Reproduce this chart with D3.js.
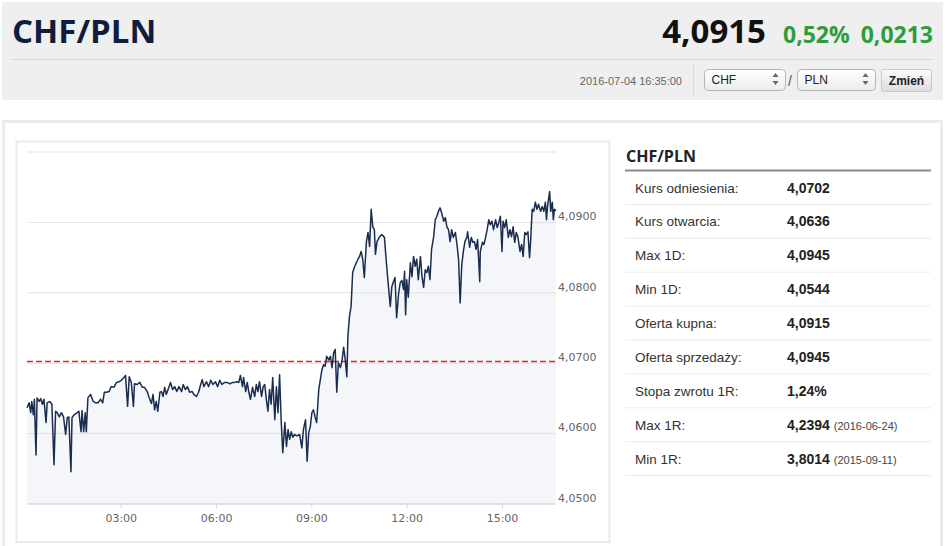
<!DOCTYPE html>
<html>
<head>
<meta charset="utf-8">
<script src="https://cdnjs.cloudflare.com/ajax/libs/d3/7.8.5/d3.min.js"></script>
<style>
body { margin: 0; background: #fff; }
svg { display: block; font-family: Arial, "Liberation Sans", sans-serif; }
</style>
</head>
<body>
<svg id="page" width="945" height="546"></svg>
<script>
// intraday CHF/PLN, minutes after 00:00 on 2016-07-04
const minutes = [3,7,10,12,15,17,20,22,26,29,32,35,39,41,46,50,54,57,60,64,68,72,76,79,82,86,88,92,96,101,
  105,107,110,113,115,118,123,128,133,137,142,146,149,153,158,162,167,172,177,181,186,189,193,196,200,204,206,211,216,221,
  225,230,233,238,241,244,247,250,254,257,260,263,266,271,274,278,282,286,290,295,298,302,306,310,315,318,323,327,331,334,
  337,342,346,350,354,359,363,367,371,376,381,386,391,395,399,403,406,410,412,416,419,422,425,429,433,436,439,442,446,449,
  452,455,458,461,464,467,471,474,477,480,483,486,490,493,496,499,502,505,508,513,518,522,525,529,532,535,538,541,544,547,
  550,554,557,560,563,566,569,573,576,579,582,585,588,591,595,598,601,604,607,609,612,615,618,622,625,628,631,634,637,640,
  644,647,650,653,656,659,661,664,669,673,678,681,684,689,692,695,698,701,705,708,711,714,716,718,720,723,727,730,733,736,
  739,742,746,749,752,755,758,761,764,767,771,774,777,780,783,786,790,793,796,799,802,805,808,812,815,818,821,824,827,830,
  834,835,839,842,845,848,851,854,858,859,863,866,869,872,875,878,881,884,888,891,894,897,900,902,905,908,912,915,918,921,
  924,927,930,934,937,940,943,946,949,952,954,957,960,963,966,969,973,976,979,982,984,986,990,992,995,997,999,1002]
const rates = [4.0636,4.0643,4.0629,4.0645,4.0626,4.0648,4.0569,4.0650,4.0645,4.0649,4.0641,4.0648,4.0615,4.0643,4.0645,4.0641,4.0555,4.0631,4.0629,4.0623,
  4.0629,4.0623,4.0598,4.0622,4.0623,4.0545,4.0622,4.0626,4.0628,4.0631,4.0602,4.0632,4.0602,4.0629,4.0602,4.0650,4.0655,4.0645,4.0643,4.0643,
  4.0648,4.0643,4.0658,4.0658,4.0659,4.0666,4.0665,4.0672,4.0673,4.0675,4.0679,4.0682,4.0638,4.0680,4.0672,4.0638,4.0670,4.0669,4.0672,4.0665,
  4.0665,4.0659,4.0652,4.0642,4.0655,4.0633,4.0645,4.0631,4.0658,4.0659,4.0652,4.0665,4.0655,4.0665,4.0672,4.0662,4.0666,4.0659,4.0666,4.0659,
  4.0669,4.0662,4.0666,4.0658,4.0659,4.0655,4.0652,4.0658,4.0669,4.0676,4.0666,4.0673,4.0666,4.0675,4.0669,4.0673,4.0666,4.0675,4.0669,4.0672,
  4.0672,4.0670,4.0672,4.0672,4.0673,4.0672,4.0682,4.0666,4.0679,4.0659,4.0672,4.0658,4.0648,4.0665,4.0652,4.0669,4.0659,4.0673,4.0652,4.0666,
  4.0669,4.0648,4.0631,4.0662,4.0641,4.0679,4.0619,4.0666,4.0629,4.0683,4.0619,4.0572,4.0615,4.0581,4.0605,4.0591,4.0602,4.0594,4.0598,4.0596,
  4.0598,4.0579,4.0605,4.0619,4.0560,4.0601,4.0609,4.0629,4.0633,4.0623,4.0615,4.0662,4.0676,4.0690,4.0697,4.0695,4.0709,4.0704,4.0709,4.0693,
  4.0714,4.0719,4.0658,4.0700,4.0693,4.0704,4.0722,4.0704,4.0680,4.0737,4.0766,4.0780,4.0828,4.0837,4.0842,4.0847,4.0851,4.0858,4.0847,4.0821,
  4.0872,4.0885,4.0865,4.0918,4.0893,4.0889,4.0854,4.0872,4.0879,4.0882,4.0878,4.0849,4.0822,4.0780,4.0808,4.0815,4.0821,4.0764,4.0800,4.0814,
  4.0817,4.0804,4.0830,4.0768,4.0818,4.0793,4.0842,4.0822,4.0851,4.0837,4.0847,4.0818,4.0851,4.0822,4.0807,4.0832,4.0828,4.0837,4.0818,4.0861,
  4.0879,4.0903,4.0908,4.0915,4.0920,4.0913,4.0901,4.0906,4.0893,4.0889,4.0872,4.0889,4.0878,4.0885,4.0868,4.0847,4.0785,4.0839,4.0858,4.0872,
  4.0879,4.0886,4.0864,4.0878,4.0871,4.0872,4.0861,4.0875,4.0815,4.0858,4.0871,4.0868,4.0878,4.0889,4.0903,4.0896,4.0901,4.0889,4.0903,4.0892,
  4.0899,4.0908,4.0858,4.0901,4.0892,4.0903,4.0878,4.0889,4.0879,4.0893,4.0871,4.0885,4.0879,4.0858,4.0868,4.0851,4.0885,4.0882,4.0886,4.0849,
  4.0872,4.0918,4.0915,4.0928,4.0918,4.0925,4.0915,4.0922,4.0915,4.0928,4.0903,4.0922,4.0943,4.0915,4.0928,4.0903,4.0918,4.0916]
const refRate = 4.0702
const yTicks = [4.05, 4.06, 4.07, 4.08, 4.09, 4.10]

const pairName = 'CHF/PLN'
const lastRate = '4,0915'
const changePct = '0,52%'
const changeAbs = '0,0213'
const stamp = '2016-07-04 16:35:00'

const statLabels = ['Kurs odniesienia:', 'Kurs otwarcia:', 'Max 1D:', 'Min 1D:', 'Oferta kupna:',
  'Oferta sprzedaży:', 'Stopa zwrotu 1R:', 'Max 1R:', 'Min 1R:']
const statValues = ['4,0702', '4,0636', '4,0945', '4,0544', '4,0915', '4,0945', '1,24%', '4,2394', '3,8014']
const statDates = ['', '', '', '', '', '', '', '(2016-06-24)', '(2015-09-11)']

const svg = d3.select('#page')
const headFont = '"Open Sans", Arial, sans-serif'
const axisFont = '"DejaVu Sans", Verdana, sans-serif'

// ---------- header ----------
svg.append('rect').attr('x', 2).attr('y', 2).attr('width', 941).attr('height', 98).attr('fill', '#efefef')
svg.append('text').attr('x', 12).attr('y', 43).text(pairName)
  .style('font-family', headFont).style('font-weight', 'bold').style('font-size', '33px').attr('fill', '#0f1e3d')
svg.append('text').attr('x', 766).attr('y', 43).attr('text-anchor', 'end').text(lastRate)
  .style('font-family', headFont).style('font-weight', 'bold').style('font-size', '33px').attr('fill', '#111')
svg.append('text').attr('x', 783).attr('y', 43).text(changePct)
  .style('font-family', headFont).style('font-weight', 'bold').style('font-size', '23px').attr('fill', '#2d9c3c')
svg.append('text').attr('x', 933).attr('y', 43).attr('text-anchor', 'end').text(changeAbs)
  .style('font-family', headFont).style('font-weight', 'bold').style('font-size', '23px').attr('fill', '#2d9c3c')
svg.append('line').attr('x1', 12).attr('x2', 932).attr('y1', 59.5).attr('y2', 59.5).attr('stroke', '#d5d5d5')

svg.append('text').attr('x', 682).attr('y', 85).attr('text-anchor', 'end').text(stamp)
  .style('font-size', '11px').attr('fill', '#666')
svg.append('line').attr('x1', 693.5).attr('x2', 693.5).attr('y1', 64).attr('y2', 97).attr('stroke', '#dadada')

const defs = svg.append('defs')
const selGrad = defs.append('linearGradient').attr('id', 'selGrad').attr('x1', 0).attr('x2', 0).attr('y1', 0).attr('y2', 1)
selGrad.append('stop').attr('offset', '0%').attr('stop-color', '#ffffff')
selGrad.append('stop').attr('offset', '100%').attr('stop-color', '#ececec')
const btnGrad = defs.append('linearGradient').attr('id', 'btnGrad').attr('x1', 0).attr('x2', 0).attr('y1', 0).attr('y2', 1)
btnGrad.append('stop').attr('offset', '0%').attr('stop-color', '#fbfbfb')
btnGrad.append('stop').attr('offset', '100%').attr('stop-color', '#dcdcdc')

const selects = [{ x: 704.5, w: 81, t: 'CHF' }, { x: 797.5, w: 78, t: 'PLN' }]
selects.forEach(s => {
  svg.append('rect').attr('x', s.x).attr('y', 69.5).attr('width', s.w).attr('height', 21).attr('rx', 4)
    .attr('fill', 'url(#selGrad)').attr('stroke', '#b4b4b4')
  svg.append('text').attr('x', s.x + 7).attr('y', 84).text(s.t).style('font-size', '12px').attr('fill', '#222')
  const ax = s.x + s.w - 10
  svg.append('path').attr('d', `M${ax - 3},77 L${ax + 3},77 L${ax},73 Z M${ax - 3},81 L${ax + 3},81 L${ax},85 Z`).attr('fill', '#666')
})
svg.append('text').attr('x', 788).attr('y', 86).text('/').style('font-size', '14px').attr('fill', '#555')
svg.append('rect').attr('x', 881.5).attr('y', 69.5).attr('width', 50).attr('height', 22).attr('rx', 2)
  .attr('fill', 'url(#btnGrad)').attr('stroke', '#c8c8c8')
svg.append('text').attr('x', 906.5).attr('y', 85).attr('text-anchor', 'middle').text('Zmień')
  .style('font-size', '12px').style('font-weight', 'bold').attr('fill', '#222')

// ---------- panels ----------
svg.append('rect').attr('x', 3.5).attr('y', 121.5).attr('width', 938).attr('height', 440)
  .attr('fill', '#fff').attr('stroke', '#ececec').attr('stroke-width', 3)
svg.append('rect').attr('x', 16.5).attr('y', 141.5).attr('width', 593).attr('height', 400.5)
  .attr('fill', '#fff').attr('stroke', '#ebebeb').attr('stroke-width', 2)

// ---------- chart ----------
const plot = { left: 27, right: 556, top: 151.5, bottom: 503.5 }
const day = (m) => new Date(2016, 6, 4, 0, m)
const data = minutes.map((m, i) => ({ t: day(m), v: rates[i] }))

const xScale = d3.scaleTime()
  .domain(d3.extent(data, d => d.t))
  .range([plot.left, plot.right])
const yScale = d3.scaleLinear()
  .domain([yTicks[0], yTicks[yTicks.length - 1]])
  .range([plot.bottom, plot.top])

const area = d3.area().x(d => xScale(d.t)).y0(plot.bottom).y1(d => yScale(d.v))
svg.append('path').datum(data).attr('d', area).attr('fill', '#f4f6f9')

const yAxis = d3.axisRight(yScale)
  .tickValues(yTicks)
  .tickSize(-(plot.right - plot.left))
  .tickPadding(2)
  .tickFormat(d => d3.format('.4f')(d).replace('.', ','))
const yG = svg.append('g').attr('transform', `translate(${plot.right},0)`).call(yAxis)
yG.select('path.domain').remove()
yG.selectAll('.tick line').attr('stroke', '#e2e2e2')
yG.selectAll('.tick text')
  .attr('dy', '-0.2em')
  .style('font-family', axisFont).style('font-size', '11px').attr('fill', '#666')
yG.selectAll('.tick').filter(d => d === yTicks[yTicks.length - 1]).select('text').remove()

const xAxis = d3.axisBottom(xScale)
  .ticks(d3.timeHour.every(3))
  .tickSize(5)
  .tickPadding(6)
  .tickFormat(d3.timeFormat('%H:%M'))
const xG = svg.append('g').attr('transform', `translate(0,${plot.bottom})`).call(xAxis)
xG.select('path.domain').attr('stroke', '#ccd6eb').attr('d', `M${plot.left},0.5H${plot.right}`)
xG.selectAll('.tick line').attr('stroke', '#ccd6eb')
xG.selectAll('.tick text').style('font-family', axisFont).style('font-size', '11px').attr('fill', '#666')

// reference rate, snapped to a whole pixel so it stays bright red
const refY = Math.round(yScale(refRate)) + 0.5
svg.append('line')
  .attr('x1', plot.left).attr('x2', plot.right)
  .attr('y1', refY).attr('y2', refY)
  .attr('stroke', '#ff1a1a').attr('stroke-width', 1.3).attr('stroke-dasharray', '6,3')

const line = d3.line().x(d => xScale(d.t)).y(d => yScale(d.v))
svg.append('path').datum(data).attr('d', line)
  .attr('fill', 'none').attr('stroke', '#1b2d4f').attr('stroke-width', 1.5).attr('stroke-linejoin', 'round')

// ---------- stats table ----------
svg.append('text').attr('x', 626).attr('y', 162).text(pairName)
  .style('font-family', headFont).style('font-weight', 'bold').style('font-size', '16px').attr('fill', '#222')
svg.append('line').attr('x1', 625).attr('x2', 931).attr('y1', 170.5).attr('y2', 170.5)
  .attr('stroke', '#8a8a8a').attr('stroke-width', 2)

const rowH = 33.9
const rows = svg.selectAll('g.row')
  .data(statLabels)
  .enter()
  .append('g')
    .attr('class', 'row')
    .attr('transform', (d, i) => `translate(0, ${171 + i * rowH})`)

rows.append('line').attr('x1', 625).attr('x2', 931).attr('y1', rowH - 0.5).attr('y2', rowH - 0.5).attr('stroke', '#ececec')
rows.append('text').attr('x', 635).attr('y', 21.5).text(d => d)
  .style('font-size', '13.5px').attr('fill', '#333')
const vals = rows.append('text').attr('x', 787).attr('y', 21.5).text((d, i) => statValues[i])
  .style('font-size', '14px').style('font-weight', 'bold').attr('fill', '#222')
vals.each(function (d, i) {
  if (!statDates[i]) return
  const w = this.getComputedTextLength()
  d3.select(this.parentNode).append('text')
    .attr('x', 787 + w + 4).attr('y', 21.5).text(statDates[i])
    .style('font-size', '11px').attr('fill', '#444')
})
</script>
</body>
</html>
